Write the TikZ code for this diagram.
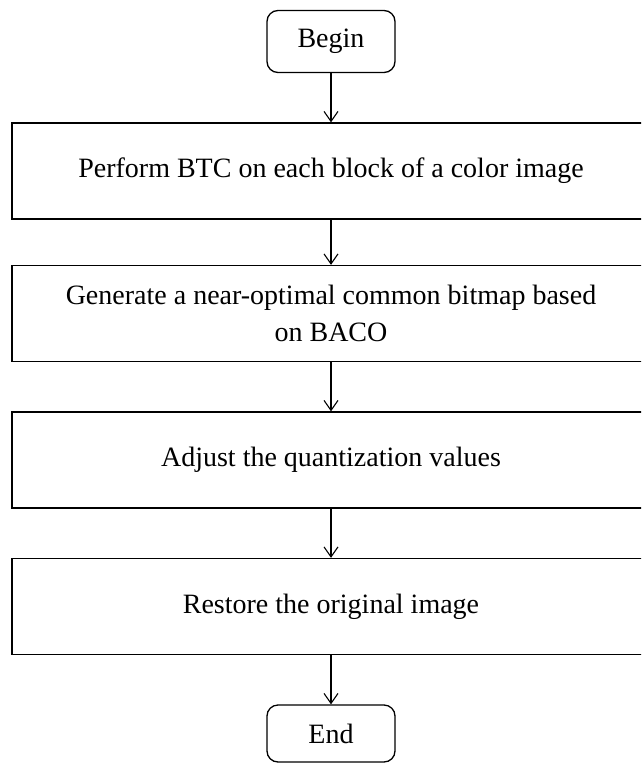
\documentclass[tikz,border=0pt]{standalone}
\usepackage{fontspec}
\setmainfont{Liberation Serif}
\usetikzlibrary{arrows.meta}
\begin{document}
\begin{tikzpicture}[x=1pt,y=-1pt,
  txt/.style={font=\fontsize{28}{34}\selectfont},
  term/.style={txt,draw,line width=1.3pt,rounded corners=11pt,minimum width=128pt,minimum height=62pt,inner sep=0pt},
  procbox/.style={txt,draw,line width=1.3pt,minimum width=638pt,minimum height=96pt,inner sep=0pt,align=center},
  flow/.style={line width=1.1pt,-{Straight Barb[length=10pt,width=14pt,line width=1.1pt]}}]
\useasboundingbox (0,0) rectangle (641,764);
\clip (0,0) rectangle (641,764);
\node[term] (begin) at (331,41.5) {Begin};
\node[procbox] (p1) at (331,171) {Perform BTC on each block of a color image};
\node[procbox] (p2) at (331,313.5) {Generate a near-optimal common bitmap based\\[3pt]on BACO};
\node[procbox] (p3) at (331,460) {Adjust the quantization values};
\node[procbox] (p4) at (331,606.5) {Restore the original image};
\node[term,minimum height=57pt] (end) at (331,733.5) {End};
\draw[flow] (begin) -- (p1);
\draw[flow] (p1) -- (p2);
\draw[flow] (p2) -- (p3);
\draw[flow] (p3) -- (p4);
\draw[flow] (p4) -- (end);
\end{tikzpicture}
\end{document}
